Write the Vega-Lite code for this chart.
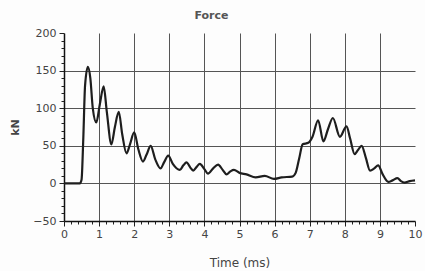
{
  "$schema": "https://vega.github.io/schema/vega-lite/v6.json",
  "width": 351,
  "height": 188,
  "autosize": "none",
  "padding": {"left": 64, "top": 33, "right": 10, "bottom": 50},
  "background": "#fdfdfd",
  "title": {"text": "Force", "font": "DejaVu Sans", "fontSize": 11, "fontWeight": "bold", "color": "#555555", "offset": 6, "dx": -28},
  "config": {
    "view": {"stroke": null},
    "axis": {
      "labelFont": "DejaVu Sans", "labelFontSize": 11, "labelColor": "#444444",
      "titleFont": "DejaVu Sans", "titleColor": "#444444",
      "domainColor": "#111111", "domainWidth": 1.5,
      "tickColor": "#222222", "tickWidth": 1,
      "gridColor": "#555555", "gridWidth": 1,
      "labelOverlap": false, "labelFlush": false
    }
  },
  "data": {"values": [
    {"t": 0, "v": 0}, {"t": 0.3, "v": 0}, {"t": 0.45, "v": 0}, {"t": 0.5, "v": 5},
    {"t": 0.55, "v": 60}, {"t": 0.6, "v": 130}, {"t": 0.68, "v": 155}, {"t": 0.75, "v": 140},
    {"t": 0.82, "v": 100}, {"t": 0.92, "v": 81}, {"t": 1.02, "v": 105}, {"t": 1.13, "v": 129},
    {"t": 1.22, "v": 95}, {"t": 1.35, "v": 52}, {"t": 1.45, "v": 75}, {"t": 1.56, "v": 95},
    {"t": 1.66, "v": 65}, {"t": 1.78, "v": 40}, {"t": 1.88, "v": 52}, {"t": 2.0, "v": 68},
    {"t": 2.12, "v": 45}, {"t": 2.25, "v": 29}, {"t": 2.35, "v": 38}, {"t": 2.47, "v": 50},
    {"t": 2.6, "v": 32}, {"t": 2.75, "v": 20}, {"t": 2.85, "v": 28}, {"t": 2.97, "v": 37},
    {"t": 3.1, "v": 26}, {"t": 3.3, "v": 18}, {"t": 3.4, "v": 24}, {"t": 3.49, "v": 28},
    {"t": 3.6, "v": 21}, {"t": 3.68, "v": 17}, {"t": 3.78, "v": 22}, {"t": 3.87, "v": 26},
    {"t": 4.0, "v": 19}, {"t": 4.1, "v": 13}, {"t": 4.25, "v": 20}, {"t": 4.39, "v": 25},
    {"t": 4.52, "v": 18}, {"t": 4.63, "v": 12}, {"t": 4.74, "v": 16}, {"t": 4.84, "v": 18},
    {"t": 5.0, "v": 14}, {"t": 5.2, "v": 12}, {"t": 5.46, "v": 8}, {"t": 5.72, "v": 10},
    {"t": 5.98, "v": 6}, {"t": 6.2, "v": 8}, {"t": 6.5, "v": 9}, {"t": 6.6, "v": 14},
    {"t": 6.7, "v": 33}, {"t": 6.8, "v": 52}, {"t": 6.96, "v": 54}, {"t": 7.08, "v": 62},
    {"t": 7.24, "v": 84}, {"t": 7.39, "v": 56}, {"t": 7.52, "v": 72}, {"t": 7.66, "v": 87},
    {"t": 7.86, "v": 62}, {"t": 8.05, "v": 76}, {"t": 8.15, "v": 60}, {"t": 8.28, "v": 39},
    {"t": 8.37, "v": 44}, {"t": 8.48, "v": 50}, {"t": 8.6, "v": 34}, {"t": 8.72, "v": 17},
    {"t": 8.84, "v": 20}, {"t": 8.95, "v": 24}, {"t": 9.08, "v": 12}, {"t": 9.24, "v": 2},
    {"t": 9.36, "v": 4}, {"t": 9.5, "v": 7}, {"t": 9.6, "v": 3}, {"t": 9.7, "v": 1},
    {"t": 9.85, "v": 3}, {"t": 10, "v": 4}
  ]},
  "mark": {"type": "line", "interpolate": "monotone", "color": "#1e1e1e", "strokeWidth": 2.2},
  "encoding": {
    "x": {
      "field": "t", "type": "quantitative",
      "scale": {"domain": [0, 10], "nice": false, "zero": false},
      "axis": {
        "title": "Time (ms)", "titleFontSize": 12, "titleFontWeight": "normal",
        "titleY": 41, "titleBaseline": "middle",
        "values": [0,0.2,0.4,0.6,0.8,1,1.2,1.4,1.6,1.8,2,2.2,2.4,2.6,2.8,3,3.2,3.4,3.6,3.8,4,4.2,4.4,4.6,4.8,5,5.2,5.4,5.6,5.8,6,6.2,6.4,6.6,6.8,7,7.2,7.4,7.6,7.8,8,8.2,8.4,8.6,8.8,9,9.2,9.4,9.6,9.8,10],
        "labelExpr": "datum.value % 1 === 0 ? '' + datum.value : ''",
        "labelPadding": 2,
        "tickSize": {"condition": {"test": "datum.value % 1 === 0", "value": 5}, "value": 3},
        "grid": true,
        "gridOpacity": {"condition": {"test": "datum.value % 1 === 0 && datum.value > 0 && datum.value < 10", "value": 1}, "value": 0}
      }
    },
    "y": {
      "field": "v", "type": "quantitative",
      "scale": {"domain": [-50, 200], "nice": false, "zero": false},
      "axis": {
        "title": "kN", "titleFontSize": 11, "titleFontWeight": "bold",
        "titleX": -49, "titleY": 94, "titleAngle": -90, "titleBaseline": "middle", "titleAlign": "center",
        "values": [-50,-40,-30,-20,-10,0,10,20,30,40,50,60,70,80,90,100,110,120,130,140,150,160,170,180,190,200],
        "labelExpr": "datum.value % 50 === 0 ? datum.label : ''",
        "labelPadding": 3,
        "tickSize": {"condition": {"test": "datum.value % 50 === 0", "value": 5}, "value": 3},
        "grid": true,
        "gridOpacity": {"condition": {"test": "datum.value % 50 === 0 && datum.value >= 0 && datum.value <= 150", "value": 1}, "value": 0}
      }
    }
  }
}
